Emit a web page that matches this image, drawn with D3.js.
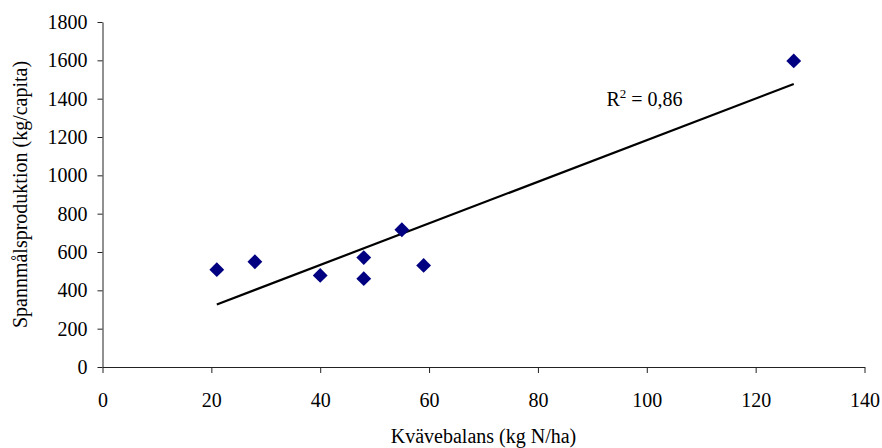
<!DOCTYPE html>
<html>
<head>
<meta charset="utf-8">
<script src="https://cdn.jsdelivr.net/npm/d3@7"></script>
<style>
  body { margin: 0; background: #fff; }
</style>
</head>
<body>
<div id="chart"></div>
<script>
// Kvävebalans (kg N/ha) vs Spannmålsproduktion (kg/capita)
const kvavebalans = [21, 28, 40, 48, 48, 55, 59, 127];
const spannmal = [508, 549, 478, 571, 461, 716, 530, 1597];
const xTicks = [0, 20, 40, 60, 80, 100, 120, 140];
const yTicks = [0, 200, 400, 600, 800, 1000, 1200, 1400, 1600, 1800];

const serif = "'Liberation Serif'";
const totalW = 882, totalH = 448;
const margin = { top: 22, right: 17.5, bottom: 81, left: 102.5 };
const width = totalW - margin.left - margin.right;
const height = totalH - margin.top - margin.bottom;

const svg = d3.select("#chart").append("svg")
    .attr("width", totalW)
    .attr("height", totalH)
    .append("g")
    .attr("transform", `translate(${margin.left},${margin.top})`);

const x = d3.scaleLinear().domain([0, 140]).range([0, width]);
const y = d3.scaleLinear().domain([0, 1800]).range([height, 0]);

// axes
const xAxis = svg.append("g")
    .attr("transform", `translate(0,${height})`)
    .call(d3.axisBottom(x).tickValues(xTicks).tickFormat(d3.format("d"))
        .tickSize(6).tickPadding(20).tickSizeOuter(0));
const yAxis = svg.append("g")
    .call(d3.axisLeft(y).tickValues(yTicks).tickFormat(d3.format("d"))
        .tickSize(5).tickPadding(10).tickSizeOuter(0));

[xAxis, yAxis].forEach(g => {
    g.attr("font-family", null).attr("font-size", null);
    g.selectAll("text")
        .style("font-family", serif)
        .style("font-size", "20px")
        .attr("fill", "#000");
    g.selectAll("line").attr("stroke", "#222");
    g.select(".domain").attr("stroke", "#222");
});

// axis labels
svg.append("text")
    .attr("text-anchor", "middle")
    .attr("x", width / 2)
    .attr("y", height + 76)
    .style("font-family", serif)
    .style("font-size", "20px")
    .text("Kvävebalans (kg N/ha)");

svg.append("text")
    .attr("text-anchor", "middle")
    .attr("transform", "rotate(-90)")
    .attr("x", -height / 2)
    .attr("y", -margin.left + 27)
    .style("font-family", serif)
    .style("font-size", "20px")
    .text("Spannmålsproduktion (kg/capita)");

// linear trend (least squares)
const pts = kvavebalans.map((v, i) => ({ x: v, y: spannmal[i] }));
const mx = d3.mean(pts, d => d.x), my = d3.mean(pts, d => d.y);
const sxy = d3.sum(pts, d => (d.x - mx) * (d.y - my));
const sxx = d3.sum(pts, d => (d.x - mx) ** 2);
const slope = sxy / sxx, intercept = my - slope * mx;
const xr = d3.extent(kvavebalans);
const trend = xr.map(v => ({ x: v, y: intercept + slope * v }));

svg.append("path")
    .datum(trend)
    .attr("d", d3.line().x(d => x(d.x)).y(d => y(d.y)))
    .attr("fill", "none")
    .attr("stroke", "#000")
    .attr("stroke-width", 2.2);

// points
const diamond = d3.symbol().type(d3.symbolSquare).size(110);
svg.selectAll(".dot")
    .data(pts)
    .enter()
    .append("path")
    .attr("class", "dot")
    .attr("d", diamond)
    .attr("transform", d => `translate(${x(d.x)},${y(d.y)}) rotate(45)`)
    .attr("fill", "#000080");

// R² label
const r2 = svg.append("text")
    .attr("x", x(92.6))
    .attr("y", y(1360))
    .style("font-family", serif)
    .style("font-size", "20px");
r2.append("tspan").text("R");
r2.append("tspan").attr("dy", -8).style("font-size", "13px").text("2");
r2.append("tspan").attr("dy", 8).text(" = 0,86");
</script>
</body>
</html>
